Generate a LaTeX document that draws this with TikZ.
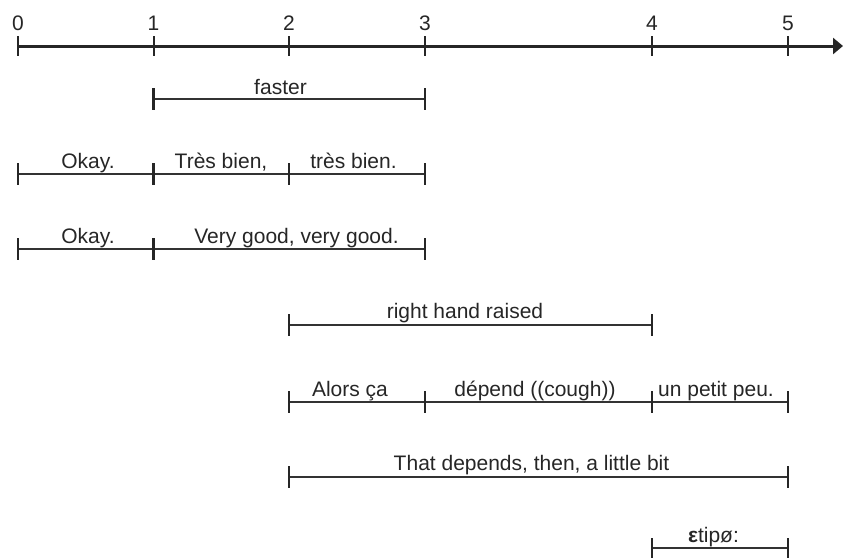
\documentclass[tikz,border=0pt]{standalone}
\usepackage{fontspec}
\setmainfont{Liberation Sans}
\usetikzlibrary{arrows.meta}
\begin{document}
\begin{tikzpicture}[x=1pt,y=-1pt,
  font=\fontsize{21}{25}\selectfont,
  axisline/.style={line width=3pt, draw=black!85, -{Triangle[length=10pt,width=16pt]}},
  axtick/.style={line width=2pt, draw=black!85},
  spanline/.style={line width=1.3pt, draw=black!80},
  stick/.style={line width=2.5pt, draw=black!85},
  lbl/.style={anchor=base, inner sep=0pt, text=black!85},
  num/.style={anchor=base, inner sep=0pt, text=black!85}]
\useasboundingbox (0,0) rectangle (843,558);

% axis
\foreach \n/\x in {0/18,1/153.5,2/289,3/425,4/652,5/788}{
  \coordinate (t\n) at (\x,46);
  \node[num] (n\n) at (\x,30) {\n};
}
\coordinate (axend) at (843,46);
\draw[axisline] (t0) -- (axend);
\foreach \n in {0,...,5}{
  \draw[axtick] ([yshift=10pt]t\n) -- ([yshift=-10pt]t\n);
}

% row 1: faster
\coordinate (r1a) at (153.5,99);
\coordinate (r1b) at (425,99);
\draw[spanline] (r1a) -- (r1b);
\foreach \n in {a,b}{\draw[stick] ([yshift=11pt]r1\n) -- ([yshift=-11pt]r1\n);}
\node[lbl] (l1a) at (280.5,94) {faster};

% row 2
\coordinate (r2a) at (18,174);
\coordinate (r2b) at (153.5,174);
\coordinate (r2c) at (289,174);
\coordinate (r2d) at (425,174);
\draw[spanline] (r2a) -- (r2d);
\foreach \n in {a,b,c,d}{\draw[stick] ([yshift=11pt]r2\n) -- ([yshift=-11pt]r2\n);}
\node[lbl] (l2a) at (88,168) {Okay.};
\node[lbl] (l2b) at (221,168) {Très bien,};
\node[lbl] (l2c) at (353.5,168) {très bien.};

% row 3
\coordinate (r3a) at (18,249);
\coordinate (r3b) at (153.5,249);
\coordinate (r3c) at (425,249);
\draw[spanline] (r3a) -- (r3c);
\foreach \n in {a,b,c}{\draw[stick] ([yshift=11pt]r3\n) -- ([yshift=-11pt]r3\n);}
\node[lbl] (l3a) at (88,243) {Okay.};
\node[lbl] (l3b) at (296.5,243) {Very good, very good.};

% row 4
\coordinate (r4a) at (289,325);
\coordinate (r4b) at (652,325);
\draw[spanline] (r4a) -- (r4b);
\foreach \n in {a,b}{\draw[stick] ([yshift=11pt]r4\n) -- ([yshift=-11pt]r4\n);}
\node[lbl] (l4a) at (465,318) {right hand raised};

% row 5
\coordinate (r5a) at (289,402);
\coordinate (r5b) at (425,402);
\coordinate (r5c) at (652,402);
\coordinate (r5d) at (788,402);
\draw[spanline] (r5a) -- (r5d);
\foreach \n in {a,b,c,d}{\draw[stick] ([yshift=11pt]r5\n) -- ([yshift=-11pt]r5\n);}
\node[lbl] (l5a) at (350,396) {Alors ça};
\node[lbl] (l5b) at (535,396) {dépend ((cough))};
\node[lbl] (l5c) at (716,396) {un petit peu.};

% row 6
\coordinate (r6a) at (289,477);
\coordinate (r6b) at (788,477);
\draw[spanline] (r6a) -- (r6b);
\foreach \n in {a,b}{\draw[stick] ([yshift=11pt]r6\n) -- ([yshift=-11pt]r6\n);}
\node[lbl] (l6a) at (531.5,470) {That depends, then, a little bit};

% row 7
\coordinate (r7a) at (652,548);
\coordinate (r7b) at (788,548);
\draw[spanline] (r7a) -- (r7b);
\foreach \n in {a,b}{\draw[stick] ([yshift=10pt]r7\n) -- ([yshift=-10pt]r7\n);}
\node[lbl] (l7a) at (713.5,542) {{\bfseries ε}tipø:};
\end{tikzpicture}
\end{document}
